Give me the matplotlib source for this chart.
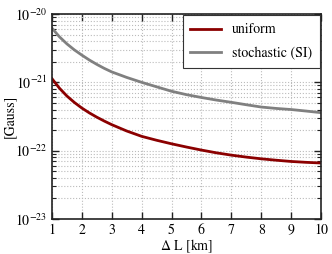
import numpy as np
import matplotlib
matplotlib.use('Agg')
import matplotlib.pyplot as plt
from matplotlib.ticker import LogLocator, NullFormatter

plt.rcParams['font.family'] = 'STIXGeneral'
plt.rcParams['mathtext.fontset'] = 'stix'
plt.rcParams['font.size'] = 10

# valores
dL = [1, 1.25, 1.5, 1.75, 2, 2.25, 2.5, 2.75, 3, 3.5, 4, 4.5, 5, 5.5, 6, 6.5, 7,
      7.5, 8, 8.5, 9, 9.5, 10]
uniform = [1.13e-21, 8.2e-22, 6.3e-22, 5.07e-22, 4.2e-22, 3.57e-22, 3.09e-22, 2.71e-22,
           2.4e-22, 1.94e-22, 1.62e-22, 1.42e-22, 1.26e-22, 1.13e-22, 1.02e-22, 9.3e-23,
           8.6e-23, 8.05e-23, 7.6e-23, 7.25e-23, 6.95e-23, 6.75e-23, 6.6e-23]
stochastic = [6.2e-21, 4.63e-21, 3.65e-21, 2.98e-21, 2.5e-21, 2.12e-21, 1.83e-21, 1.6e-21,
              1.42e-21, 1.18e-21, 1.0e-21, 8.6e-22, 7.4e-22, 6.6e-22, 6.0e-22, 5.5e-22,
              5.1e-22, 4.7e-22, 4.35e-22, 4.15e-22, 4.0e-22, 3.8e-22, 3.6e-22]
yticks = [1e-23, 1e-22, 1e-21, 1e-20]

fig = plt.figure(figsize=(3.32, 2.54), dpi=100)
ax = fig.add_axes([52/332, 1-219/254, 269/332, 205/254])

ax.plot(dL, uniform, color='#8b0000', lw=2, label='uniform')
ax.plot(dL, stochastic, color='#808080', lw=2, label='stochastic (SI)')

ax.set_yscale('log')
ax.set_xlim(1, 10)
ax.set_ylim(1e-23, 1e-20)
ax.set_xticks(range(1, 11))
ax.set_yticks(yticks)
ax.yaxis.set_minor_locator(LogLocator(base=10, subs=np.arange(2, 10), numticks=10))
ax.yaxis.set_minor_formatter(NullFormatter())

ax.tick_params(which='both', direction='in', top=True, right=True, color='#222222')
ax.tick_params(which='major', length=5, width=1)
ax.tick_params(which='minor', length=3, width=0.8)
ax.tick_params(axis='x', which='minor', top=False, bottom=False)
ax.tick_params(axis='x', pad=3)

ax.grid(True, which='major', ls=':', color='#bbbbbb', lw=0.8)
ax.grid(True, which='minor', axis='y', ls=':', color='#bbbbbb', lw=0.8)

for s in ax.spines.values():
    s.set_color('#222222')
    s.set_linewidth(1.2)

ax.set_xlabel(r'$\Delta$ L [km]')
ax.set_ylabel('[Gauss]')
ax.xaxis.set_label_coords(0.5, -0.09)
ax.yaxis.set_label_coords(-0.135, 0.5)

leg = ax.legend(loc='upper right', fancybox=False, edgecolor='#333333',
                framealpha=1, handlelength=2.2, borderaxespad=0.1,
                labelspacing=0.75, borderpad=0.55)
leg.get_frame().set_linewidth(0.8)

fig.savefig('out.png', dpi=100)
